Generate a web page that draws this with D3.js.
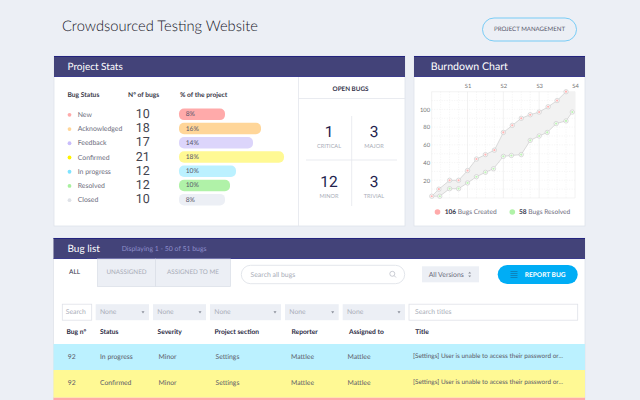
<!DOCTYPE html>
<html>
<head>
<meta charset="utf-8">
<script src="https://cdn.jsdelivr.net/npm/d3@7"></script>
<style>
  html, body { margin: 0; padding: 0; background: #eceff5; overflow: hidden; }
  svg { display: block; }
  text { font-family: Lato, sans-serif; text-rendering: geometricPrecision; }
</style>
</head>
<body>
<div id="wrapper"></div>
<script>
// Project stats data
const statuses = ["New", "Acknowledged", "Feedback", "Confirmed", "In progress", "Resolved", "Closed"];
const bugCounts = [10, 18, 17, 21, 12, 12, 10];
const percentLabels = ["8%", "16%", "14%", "18%", "10%", "10%", "8%"];
const barValues = [9.2, 16.4, 14.8, 21, 11.4, 10.2, 9.2];

// Open bugs
const severities = ["CRITICAL", "MAJOR", "MINOR", "TRIVIAL"];
const severityCounts = [1, 3, 12, 3];

// Burndown data, x in days (4 per sprint)
const sprints = ["S1", "S2", "S3", "S4"];
const yTicks = [20, 40, 60, 80, 100];
const createdDays = [0, 0.8, 2, 3, 4, 5, 6, 7, 8, 9, 10, 11, 12, 13, 14, 15];
const createdBugs = [2, 10, 20, 20, 31, 44, 49, 54, 74, 82, 90, 94, 97, 103, 110, 120];
const resolvedDays = [0.9, 2, 3, 4, 5, 6, 6.9, 8, 8.9, 10, 11, 12, 12.9, 13.9, 15, 15.7];
const resolvedBugs = [2, 10.5, 10.5, 17, 24, 29, 33, 47, 48, 49, 65, 70, 74, 84, 87, 97];
const bandEndDay = 16;
const bandEndTop = 120;
const bandEndBottom = 100;

// Bug table
const columns = ["Bug n°", "Status", "Severity", "Project section", "Reporter", "Assigned to", "Title"];
const filters = ["Search", "None", "None", "None", "None", "None", "Search titles"];
const tableRows = [
  ["92", "In progress", "Minor", "Settings", "Mattlee", "Mattlee", "[Settings] User is unable to access their password or..."],
  ["92", "Confirmed", "Minor", "Settings", "Mattlee", "Mattlee", "[Settings] User is unable to access their password or..."],
  ["", "", "", "", "", "", ""],
];
const rowStatus = ["In progress", "Confirmed", "New"];

// Colors
const statusColor = d3.scaleOrdinal()
  .domain(statuses)
  .range(["#ffaaaa", "#ffd699", "#dcd5fb", "#fff994", "#bbf1ff", "#b0f2a8", "#eceff5"]);
const dotColor = d3.scaleOrdinal()
  .domain(statuses)
  .range(["#ffaaaa", "#ffd699", "#c9bdfb", "#fff200", "#7fe3ff", "#a8f09e", "#dfe2e8"]);
const navy = "#434379";
const ink = "#23234d";
const grey = "#6d6d7d";
const soft = "#a9adb8";
const line = "#e3e6ec";

const svg = d3.select("#wrapper").append("svg").attr("width", 640).attr("height", 400);

function label(g, x, y, txt, size, color, opts = {}) {
  return g.append("text")
    .attr("x", x)
    .attr("y", y)
    .attr("dominant-baseline", "central")
    .attr("text-anchor", opts.anchor || "start")
    .attr("font-size", size)
    .attr("font-weight", opts.weight || 400)
    .attr("fill", color)
    .text(txt);
}

function panel(x, y, w, h, title, titleX, titleSize) {
  svg.append("rect").attr("x", x).attr("y", y).attr("width", w).attr("height", h)
    .attr("fill", "#fff").attr("stroke", "#dfe3ea").attr("stroke-width", 0.8);
  svg.append("rect").attr("x", x).attr("y", y).attr("width", w).attr("height", 20.6)
    .attr("fill", navy);
  svg.append("rect").attr("x", x).attr("y", y).attr("width", w).attr("height", 0.8)
    .attr("fill", "#1c1c80");
  svg.append("rect").attr("x", x).attr("y", y + 20).attr("width", w).attr("height", 0.7)
    .attr("fill", "#1c1c80");
  label(svg, titleX, y + 10.6, title, titleSize, "#fff");
}

// Page header
label(svg, 62, 25.5, "Crowdsourced Testing Website", 14.7, "#14141f", { weight: 300 });
svg.append("rect").attr("x", 482.5).attr("y", 18).attr("width", 94).attr("height", 23).attr("rx", 11.5)
  .attr("fill", "none").attr("stroke", "#5cc3f5").attr("stroke-width", 0.8);
label(svg, 529.5, 29.8, "PROJECT MANAGEMENT", 6.1, "#55556a", { anchor: "middle" });

// Project stats
panel(54, 56, 351, 170, "Project Stats", 67.5, 10);
const stats = svg.append("g");
label(stats, 67.5, 95, "Bug Status", 6.7, "#3a3a4a", { weight: 700 });
label(stats, 128, 95, "N° of bugs", 6.7, "#3a3a4a", { weight: 700 });
label(stats, 180, 95, "% of the project", 6.7, "#3a3a4a", { weight: 700 });

const rowY = d3.scalePoint().domain(statuses).range([114.3, 199.7]);
const barW = d3.scaleLinear().domain([0, 21]).range([0, 105]);

const statRow = stats.selectAll(".stat-row")
  .data(statuses)
  .join("g")
  .attr("class", "stat-row")
  .attr("transform", (d) => `translate(0,${rowY(d)})`);
statRow.append("circle").attr("cx", 69.5).attr("cy", 0.5).attr("r", 1.9).attr("fill", (d) => dotColor(d));
statRow.append("text").attr("x", 77.7).attr("dominant-baseline", "central").attr("y", 0.5)
  .attr("font-size", 6.9).attr("fill", grey).text((d) => d);
statRow.append("text").attr("x", 142.7).attr("text-anchor", "middle").attr("dominant-baseline", "central")
  .attr("font-size", 12.5).attr("fill", "#44444f").style("font-family", "Roboto")
  .text((d, i) => bugCounts[i]);
statRow.append("rect").attr("x", 179).attr("y", -5.8).attr("height", 11.6).attr("rx", 5)
  .attr("width", (d, i) => barW(barValues[i]))
  .attr("fill", (d) => statusColor(d));
statRow.append("text").attr("x", 185.7).attr("dominant-baseline", "central")
  .attr("font-size", 6.7).attr("fill", "#55556a").text((d, i) => percentLabels[i]);

// Open bugs
svg.append("line").attr("x1", 298.5).attr("x2", 298.5).attr("y1", 77).attr("y2", 226).attr("stroke", line).attr("stroke-width", 0.8);
svg.append("line").attr("x1", 298.5).attr("x2", 405).attr("y1", 98.5).attr("y2", 98.5).attr("stroke", line).attr("stroke-width", 0.8);
label(svg, 350.5, 89, "OPEN BUGS", 6.3, "#33334a", { anchor: "middle", weight: 700 });
svg.append("line").attr("x1", 351.7).attr("x2", 351.7).attr("y1", 116).attr("y2", 206).attr("stroke", line).attr("stroke-width", 0.8);
svg.append("line").attr("x1", 306).attr("x2", 397).attr("y1", 160).attr("y2", 160).attr("stroke", line).attr("stroke-width", 0.8);
const sevX = [329, 374, 329, 374];
const sevY = [132, 132, 182, 182];
severities.forEach((s, i) => {
  label(svg, sevX[i], sevY[i], severityCounts[i], 15.5, ink, { anchor: "middle" }).style("font-family", "Roboto");
  label(svg, sevX[i], sevY[i] + 14.5, s, 5.6, soft, { anchor: "middle" });
});

// Burndown
panel(414, 56, 171, 170, "Burndown Chart", 430.7, 10.6);
const x = d3.scaleLinear().domain([0, 16]).range([431.7, 575]);
const y = d3.scaleLinear().domain([0, 120]).range([198, 91.7]);
const chart = svg.append("g");

chart.selectAll(".grid-v").data(d3.range(0, 17)).join("line")
  .attr("x1", (d) => x(d)).attr("x2", (d) => x(d)).attr("y1", y(120)).attr("y2", y(0))
  .attr("stroke", (d) => (d % 4 === 0 ? "#f0f0f0" : "#ececec"))
  .attr("stroke-width", (d) => (d % 4 === 0 ? 0.9 : 0.6))
  .attr("stroke-dasharray", (d) => (d % 4 === 0 ? null : "1,1.5"));
chart.selectAll(".grid-h").data(d3.range(0, 121, 10)).join("line")
  .attr("x1", x(0)).attr("x2", x(16)).attr("y1", (d) => y(d)).attr("y2", (d) => y(d))
  .attr("stroke", (d) => (d === 120 || d === 0 ? "#ededed" : "#ececec"))
  .attr("stroke-width", 0.6)
  .attr("stroke-dasharray", (d) => (d === 120 || d === 0 ? null : "1,1.5"));

const created = createdDays.map((d, i) => [d, createdBugs[i]]);
const resolved = resolvedDays.map((d, i) => [d, resolvedBugs[i]]);
const band = created
  .concat([[bandEndDay, bandEndTop], [bandEndDay, bandEndBottom]])
  .concat(resolved.slice().reverse())
  .concat([created[0]]);
const lineGen = d3.line().x((d) => x(d[0])).y((d) => y(d[1]));
chart.append("path").attr("d", lineGen(band)).attr("fill", "#f2f2f2");
chart.append("path").attr("d", lineGen(created)).attr("fill", "none").attr("stroke", "#c4c4c4").attr("stroke-width", 0.6);
chart.append("path").attr("d", lineGen([created[0]].concat(resolved))).attr("fill", "none").attr("stroke", "#c4c4c4").attr("stroke-width", 0.6);

function markers(data, color) {
  const g = chart.append("g").selectAll("g").data(data).join("g")
    .attr("transform", (d) => `translate(${x(d[0])},${y(d[1])})`);
  g.append("circle").attr("r", 2.2).attr("fill", "#fafafa").attr("stroke", "#bdbdbd").attr("stroke-width", 0.5);
  g.append("circle").attr("r", 1.1).attr("fill", color);
}
markers(created, "#ffb4b4");
markers(resolved, "#bdf4b5");

const yAxis = d3.axisLeft(y).tickValues(yTicks).tickSize(0).tickPadding(1.7);
const yAxisG = chart.append("g").attr("transform", `translate(${x(0)},0)`).call(yAxis);
yAxisG.select(".domain").remove();
yAxisG.selectAll("text").attr("font-size", 5.8).attr("fill", "#777").style("font-family", "Lato");

const topAxis = d3.axisTop(x)
  .tickValues([4, 8, 12, 16])
  .tickFormat((d) => sprints[d / 4 - 1])
  .tickSize(0)
  .tickPadding(4);
const topAxisG = chart.append("g").attr("transform", `translate(0,${y(120)})`).call(topAxis);
topAxisG.select(".domain").remove();
topAxisG.selectAll("text").attr("font-size", 5.8).attr("fill", "#777").style("font-family", "Lato");

svg.append("circle").attr("cx", 437.5).attr("cy", 212).attr("r", 2.8).attr("fill", "#ffaaaa");
svg.append("circle").attr("cx", 512.3).attr("cy", 212).attr("r", 2.8).attr("fill", "#b0f2a8");
const created_t = label(svg, 444.7, 212, "", 6.6, grey);
created_t.append("tspan").attr("font-weight", 700).attr("fill", "#33334a").text("106");
created_t.append("tspan").text(" Bugs Created");
const resolved_t = label(svg, 519, 212, "", 6.6, grey);
resolved_t.append("tspan").attr("font-weight", 700).attr("fill", "#33334a").text("58");
resolved_t.append("tspan").text(" Bugs Resolved");

// Bug list
panel(53.5, 238, 531.5, 162, "Bug list", 67.5, 10);
label(svg, 121.7, 248.8, "Displaying 1 - 50 of 51 bugs", 6.9, "#8d8dc9");

label(svg, 69, 272.8, "ALL", 6.5, "#33334a");
const tabs = [["UNASSIGNED", 97.5, 58], ["ASSIGNED TO ME", 155.5, 75]];
tabs.forEach(([t, tx, tw]) => {
  svg.append("rect").attr("x", tx).attr("y", 259).attr("width", tw).attr("height", 27.5)
    .attr("fill", "#eceff5").attr("stroke", "#d9dde5").attr("stroke-width", 0.7);
  label(svg, tx + tw / 2, 272.8, t, 6.3, soft, { anchor: "middle" });
});

svg.append("rect").attr("x", 241.3).attr("y", 265.3).attr("width", 163.4).attr("height", 18.4).attr("rx", 9.2)
  .attr("fill", "#fff").attr("stroke", "#dcdfe6").attr("stroke-width", 0.8);
label(svg, 250.5, 274.5, "Search all bugs", 6.9, soft);
svg.append("circle").attr("cx", 392.3).attr("cy", 273.8).attr("r", 2.5).attr("fill", "none").attr("stroke", "#b5b8c2").attr("stroke-width", 0.7);
svg.append("line").attr("x1", 394.1).attr("y1", 275.6).attr("x2", 396).attr("y2", 277.5).attr("stroke", "#b5b8c2").attr("stroke-width", 0.7);

svg.append("rect").attr("x", 422).attr("y", 266.3).attr("width", 57).attr("height", 16).attr("fill", "#eceff5");
label(svg, 428.7, 274.5, "All Versions", 6.9, grey);
svg.append("path").attr("d", d3.line()([[468.2, 273.5], [469.7, 271.7], [471.2, 273.5]])).attr("fill", "#8b8f9a");
svg.append("path").attr("d", d3.line()([[468.2, 275.5], [469.7, 277.3], [471.2, 275.5]])).attr("fill", "#8b8f9a");

svg.append("rect").attr("x", 497.7).attr("y", 265).attr("width", 80).attr("height", 19).attr("rx", 9.5).attr("fill", "#00adf5");
label(svg, 524.7, 274.5, "REPORT BUG", 6.6, "#fff", { weight: 700 });
d3.range(0, 4).forEach((i) => {
  svg.append("line").attr("x1", 510.5).attr("x2", 517.5).attr("y1", 271.5 + i * 2).attr("y2", 271.5 + i * 2)
    .attr("stroke", "#0b7fb8").attr("stroke-width", 0.9);
});

// Table filters
const filterLeft = [62.3, 95.7, 153, 210, 285, 342.7, 409];
const filterRight = [91.7, 149, 206, 281, 338.7, 405, 577.7];
const filterG = svg.append("g").selectAll("g").data(filters).join("g");
filterG.append("rect")
  .attr("x", (d, i) => filterLeft[i])
  .attr("y", 304.2)
  .attr("width", (d, i) => filterRight[i] - filterLeft[i])
  .attr("height", 16)
  .attr("fill", (d) => (d === "None" ? "#eceff5" : "#fff"))
  .attr("stroke", (d) => (d === "None" ? "none" : "#dfe2e8"))
  .attr("stroke-width", 0.8);
filterG.append("text")
  .attr("x", (d, i) => filterLeft[i] + (d === "None" ? 4.3 : i === 0 ? 3.5 : 6))
  .attr("y", 312.3)
  .attr("dominant-baseline", "central")
  .attr("font-size", 6.8)
  .attr("fill", soft)
  .text((d) => d);
filterG.filter((d) => d === "None").append("path")
  .attr("d", (d, i) => {
    const r = filterRight[i + 1] - 6;
    return d3.line()([[r - 1.5, 311.3], [r + 1.5, 311.3], [r, 313.5]]);
  })
  .attr("fill", "#8b8f9a");

// Table header and rows
const headX = [66.5, 100, 157.5, 214.5, 291.5, 349, 415.3];
const cellX = [67.7, 100, 158.5, 215.5, 291, 347.5, 413];
const rowTop = [344, 370, 397.7];
const rowBottom = [370, 397.7, 400];

svg.append("g").selectAll("text").data(columns).join("text")
  .attr("x", (d, i) => headX[i])
  .attr("y", 331.8)
  .attr("dominant-baseline", "central")
  .attr("font-size", 6.7)
  .attr("font-weight", 700)
  .attr("fill", "#2b2b45")
  .text((d) => d);

const rowG = svg.append("g").selectAll("g").data(tableRows).join("g");
rowG.append("rect")
  .attr("x", 53.5)
  .attr("width", 531.5)
  .attr("y", (d, i) => rowTop[i])
  .attr("height", (d, i) => rowBottom[i] - rowTop[i])
  .attr("fill", (d, i) => statusColor(rowStatus[i]));
rowG.each(function (row, i) {
  d3.select(this).selectAll("text").data(row).join("text")
    .attr("x", (d, j) => cellX[j])
    .attr("y", rowTop[i] + 12.5)
    .attr("dominant-baseline", "central")
    .attr("font-size", (d, j) => (j === 6 ? 6.45 : 6.8))
    .attr("fill", "#5a5a68")
    .text((d) => d);
});
</script>
</body>
</html>
